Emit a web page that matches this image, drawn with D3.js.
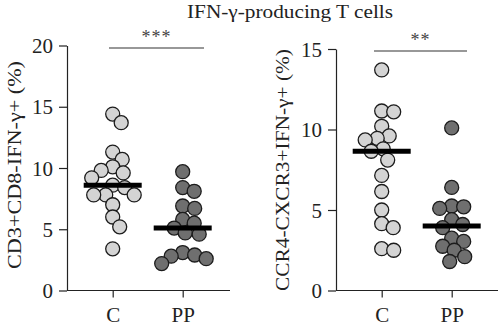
<!DOCTYPE html>
<html>
<head>
<meta charset="utf-8">
<script src="https://cdn.jsdelivr.net/npm/d3@7"></script>
<style>
  body { margin: 0; background: #fff; }
  text { font-family: "Liberation Serif", "Times New Roman", serif; fill: #222; }
</style>
</head>
<body>
<script>
var width = 500;
var height = 329;

// categories
var groups = ["C", "PP"];

// CD3+CD8-IFN-g+ (%)
var cd8C  = [14.4, 13.7, 11.3, 10.7, 10.1, 9.8, 9.6, 9.2, 8.6, 8.4, 7.8, 7.8, 7.8, 7.0, 6.0, 5.2, 3.4];
var cd8PP = [9.7, 8.4, 8.1, 6.9, 6.7, 5.8, 5.5, 5.1, 4.7, 4.6, 3.1, 2.9, 2.8, 2.6, 2.2];

// CCR4-CXCR3+IFN-g+ (%)
var th1C  = [13.7, 11.15, 11.1, 10.2, 9.6, 9.45, 9.35, 8.8, 8.65, 8.1, 7.15, 6.15, 5.0, 4.15, 3.9, 2.6, 2.5];
var th1PP = [10.1, 6.4, 5.25, 5.2, 5.1, 4.4, 4.1, 3.9, 3.25, 3.05, 2.75, 2.5, 2.1, 1.8];

var leftTicks = [0, 5, 10, 15, 20];
var rightTicks = [0, 5, 10, 15];
var leftStars = "***";
var rightStars = "**";

var fills = { C: "#d4d4d4", PP: "#6f6f6f" };

var svg = d3.select("body")
    .append("svg")
    .attr("width", width)
    .attr("height", height);

svg.append("text")
    .attr("x", 290)
    .attr("y", 18)
    .attr("text-anchor", "middle")
    .attr("textLength", 206)
    .attr("lengthAdjust", "spacingAndGlyphs")
    .style("font-size", "19px")
    .text("IFN-\u03b3-producing T cells");

// simple beeswarm so the dots don't pile up on each other
function swarm(values, y, cx, minD) {
    var placed = [];
    values.map(function(v) { return { v: v, y: y(v) }; })
        .sort(function(a, b) { return a.y - b.y; })
        .forEach(function(p) {
            for (var k = 0; k < 400; k++) {
                var dx = k === 0 ? 0 : (k % 2 ? 1 : -1) * Math.ceil(k / 2) * 0.5;
                var ok = placed.every(function(q) {
                    var ddx = q.x - (cx + dx), ddy = q.y - p.y;
                    return ddx * ddx + ddy * ddy >= minD * minD;
                });
                if (ok) { p.x = cx + dx; break; }
            }
            placed.push(p);
        });
    return placed;
}

function panel(opt) {
    var y = d3.scaleLinear().domain(opt.domain).range([290.5, opt.top]);
    var x = d3.scalePoint().domain(groups).range(opt.xs);
    var g = svg.append("g");

    var yAxis = g.append("g")
        .attr("transform", "translate(" + opt.x0 + ",0)")
        .call(d3.axisLeft(y).tickValues(opt.ticks).tickSize(8).tickSizeOuter(0).tickPadding(6));
    yAxis.selectAll("text").style("font-size", "21px").attr("dy", "0.34em");

    var xAxis = g.append("g")
        .attr("transform", "translate(0,290.5)")
        .call(d3.axisBottom(x).tickSize(7).tickSizeOuter(0).tickPadding(10));
    xAxis.select(".domain").remove();
    xAxis.selectAll("text").style("font-size", "21px");

    g.append("line")
        .attr("x1", opt.x0).attr("x2", opt.x1)
        .attr("y1", 290.5).attr("y2", 290.5)
        .attr("stroke", "#222");

    g.selectAll(".domain, .tick line").attr("stroke", "#222").attr("stroke-width", 1.2);

    g.append("text")
        .attr("transform", "translate(" + opt.labelX + "," + opt.labelY + ") rotate(-90)")
        .attr("text-anchor", "middle")
        .attr("textLength", opt.labelLen)
        .attr("lengthAdjust", "spacingAndGlyphs")
        .style("font-size", "19px")
        .text(opt.label);

    // significance bar
    g.append("line")
        .attr("x1", opt.sig[0]).attr("x2", opt.sig[1])
        .attr("y1", opt.sigY).attr("y2", opt.sigY)
        .attr("stroke", "#333").attr("stroke-width", 1.2);
    g.append("text")
        .attr("x", (opt.sig[0] + opt.sig[1]) / 2)
        .attr("y", opt.sigY - 5)
        .attr("text-anchor", "middle")
        .style("font-size", "18px")
        .style("fill", "#444")
        .style("letter-spacing", "1px")
        .text(opt.stars);

    opt.series.forEach(function(s, i) {
        var pts = swarm(s, y, x(groups[i]), 12);
        g.selectAll(".dot" + i)
            .data(pts)
            .enter()
            .append("circle")
            .attr("cx", function(d) { return d.x; })
            .attr("cy", function(d) { return d.y; })
            .attr("r", 7)
            .attr("fill", fills[groups[i]])
            .attr("stroke", "#1c1c1c")
            .attr("stroke-width", 1.3);

        var m = d3.median(s);
        g.append("line")
            .attr("x1", x(groups[i]) - 29).attr("x2", x(groups[i]) + 29)
            .attr("y1", y(m)).attr("y2", y(m))
            .attr("stroke", "#000").attr("stroke-width", 5);
    });
}

panel({
    domain: [0, 20], top: 45.5, ticks: leftTicks,
    x0: 67, x1: 230, xs: [112.7, 182.7],
    label: "CD3+CD8-IFN-\u03b3+ (%)", labelX: 21, labelY: 165, labelLen: 208,
    sig: [109, 204], sigY: 48, stars: leftStars,
    series: [cd8C, cd8PP]
});

panel({
    domain: [0, 15], top: 49, ticks: rightTicks,
    x0: 336, x1: 498, xs: [381.7, 451.7],
    label: "CCR4-CXCR3+IFN-\u03b3+ (%)", labelX: 289, labelY: 170, labelLen: 242,
    sig: [374, 467], sigY: 51, stars: rightStars,
    series: [th1C, th1PP]
});
</script>
</body>
</html>
